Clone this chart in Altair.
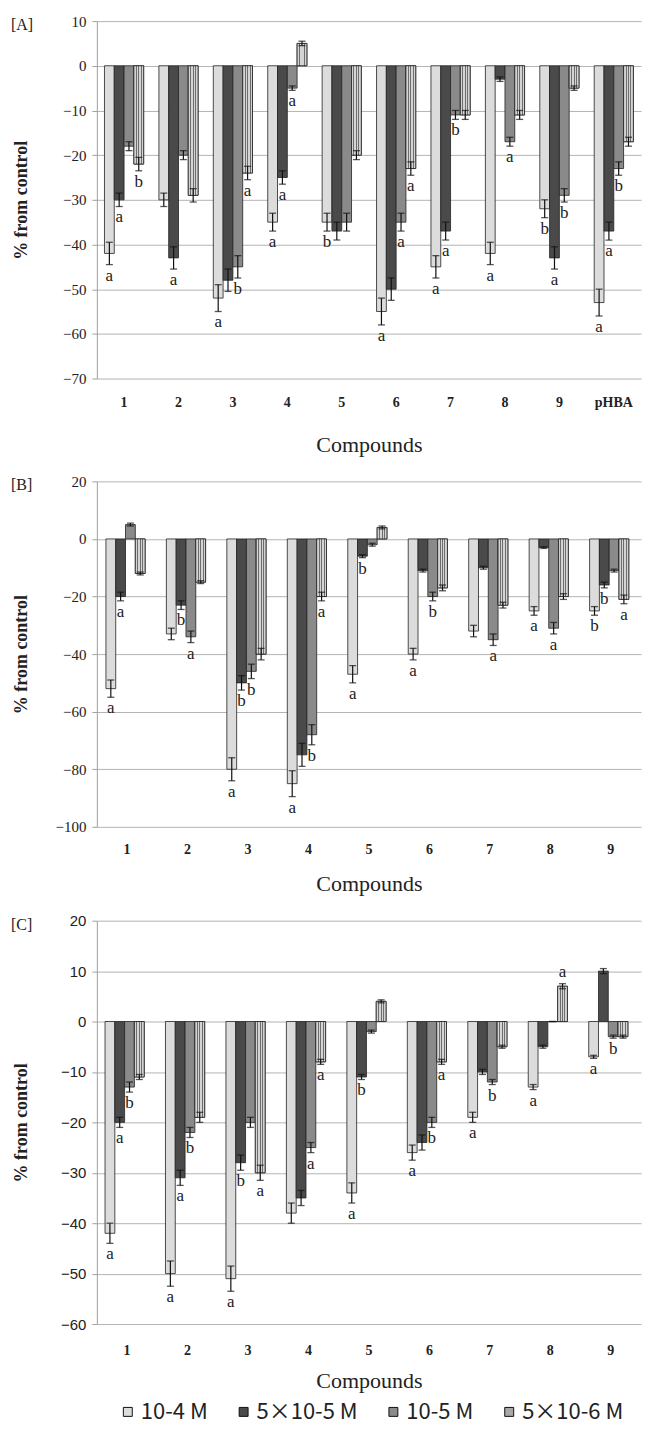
import altair as alt
import pandas as pd

series = ["10-4 M", "5×10-5 M", "10-5 M", "5×10-6 M"]
colors = ["#dcdcdc", "#4a4a4a", "#8a8a8a", "#a8a8a8"]

# ---------------- Panel A ----------------
groups_a = ["1", "2", "3", "4", "5", "6", "7", "8", "9", "pHBA"]
a_s1 = [-42, -30, -52, -35, -35, -55, -45, -42, -32, -53]
a_s2 = [-30, -43, -48, -25, -37, -50, -37, -3, -43, -37]
a_s3 = [-18, -20, -45, -5, -35, -35, -11, -17, -29, -23]
a_s4 = [-22, -29, -24, 5, -20, -23, -11, -11, -5, -17]
a_e1 = [2.5, 1.5, 3, 2, 2, 3, 2.5, 2.5, 2, 3]
a_e2 = [1.5, 2.5, 2.5, 1.5, 2, 2.5, 2, 0.5, 2.5, 2]
a_e3 = [1, 1, 2.5, 0.5, 2, 2, 1, 1, 1.5, 1.5]
a_e4 = [1.5, 1.5, 1.5, 0.5, 1, 1.5, 1, 1, 0.5, 1]
a_l1 = ["a", "", "a", "a", "b", "a", "a", "a", "b", "a"]
a_l2 = ["a", "a", "", "a", "", "", "a", "", "a", "a"]
a_l3 = ["", "", "b", "a", "", "a", "b", "a", "b", "b"]
a_l4 = ["b", "", "a", "", "", "a", "", "", "", ""]

# ---------------- Panel B ----------------
groups_b = ["1", "2", "3", "4", "5", "6", "7", "8", "9"]
b_s1 = [-52, -33, -80, -85, -47, -40, -32, -25, -25]
b_s2 = [-20, -23, -50, -75, -6, -11, -10, -3, -16]
b_s3 = [5, -34, -46, -68, -2, -20, -35, -31, -11]
b_s4 = [-12, -15, -40, -20, 4, -17, -23, -20, -21]
b_e1 = [3, 2, 4, 4.5, 3, 2, 2, 1.5, 1.5]
b_e2 = [1.5, 1.5, 2.5, 4, 0.5, 0.5, 0.5, 0.3, 1]
b_e3 = [0.5, 2, 2.5, 3.5, 0.5, 1.5, 2, 2, 0.5]
b_e4 = [0.5, 0.5, 2, 1.5, 0.5, 1, 1, 1, 1.5]
b_l1 = ["a", "", "a", "a", "a", "a", "", "a", "b"]
b_l2 = ["a", "b", "b", "", "b", "", "", "", "b"]
b_l3 = ["", "a", "b", "b", "", "b", "a", "a", ""]
b_l4 = ["", "", "", "a", "", "", "", "", "a"]

# ---------------- Panel C ----------------
groups_c = ["1", "2", "3", "4", "5", "6", "7", "8", "9"]
c_s1 = [-42, -50, -51, -38, -34, -26, -19, -13, -7]
c_s2 = [-20, -31, -28, -35, -11, -24, -10, -5, 10]
c_s3 = [-13, -22, -20, -25, -2, -20, -12, 0, -3]
c_s4 = [-11, -19, -30, -8, 4, -8, -5, 7, -3]
c_e1 = [2, 2.5, 2.5, 2, 2, 1.5, 1, 0.5, 0.3]
c_e2 = [1, 1.5, 1.5, 1.5, 0.5, 1.5, 0.5, 0.3, 0.5]
c_e3 = [1, 1, 1, 1, 0.3, 1, 0.5, 0, 0.3]
c_e4 = [0.5, 1, 1.5, 0.5, 0.3, 0.5, 0.3, 0.5, 0.3]
c_l1 = ["a", "a", "a", "", "a", "a", "a", "a", "a"]
c_l2 = ["a", "a", "b", "", "b", "", "", "", ""]
c_l3 = ["b", "b", "", "a", "", "b", "b", "", "b"]
c_l4 = ["", "", "a", "a", "", "a", "", "a", ""]


def frame(groups, vals, errs, labs):
    rows = []
    for si, s in enumerate(series):
        for gi, g in enumerate(groups):
            v = vals[si][gi]
            e = errs[si][gi]
            rows.append(dict(compound=g, series=s, value=v, lo=v - e, hi=v + e,
                             label=labs[si][gi]))
    return pd.DataFrame(rows)


SERIF = "Liberation Serif"
TXT = "#222222"

legend = alt.Legend(orient="none", legendX=20, legendY=1382, direction="horizontal",
                    title=None, symbolType="square", symbolSize=80,
                    symbolStrokeColor="#111111", symbolStrokeWidth=1,
                    labelFont="Noto Sans CJK SC", labelFontSize=22, labelColor=TXT,
                    columnPadding=24, labelOffset=2)

stripe_fill = {
    "gradient": "linear", "x1": 0, "y1": 0, "x2": 1, "y2": 0,
    "stops": [
        {"offset": 0.0, "color": "#d4d4d4"}, {"offset": 0.2, "color": "#d4d4d4"},
        {"offset": 0.2, "color": "#6e6e6e"}, {"offset": 0.3, "color": "#6e6e6e"},
        {"offset": 0.3, "color": "#d4d4d4"}, {"offset": 0.45, "color": "#d4d4d4"},
        {"offset": 0.45, "color": "#6e6e6e"}, {"offset": 0.55, "color": "#6e6e6e"},
        {"offset": 0.55, "color": "#d4d4d4"}, {"offset": 0.7, "color": "#d4d4d4"},
        {"offset": 0.7, "color": "#6e6e6e"}, {"offset": 0.8, "color": "#6e6e6e"},
        {"offset": 0.8, "color": "#d4d4d4"}, {"offset": 1.0, "color": "#d4d4d4"},
    ],
}


def panel(df, groups, tag, domain, step, height, tick_font, lab_pad, title_pad,
          pad_inner, ytitle_pad):
    x = alt.X("compound:N", sort=groups,
              scale=alt.Scale(paddingInner=pad_inner, paddingOuter=pad_inner / 2),
              axis=alt.Axis(title="Compounds", labelAngle=0, labelFont=SERIF,
                            labelFontWeight="bold", labelFontSize=14, labelColor=TXT,
                            labelPadding=lab_pad, ticks=False, domain=False,
                            titleFont=SERIF, titleFontSize=22, titleFontWeight="normal",
                            titleColor=TXT, titlePadding=title_pad))
    xo = alt.XOffset("series:N", sort=series)

    def yenc(field):
        return alt.Y(field + ":Q", stack=None,
                     scale=alt.Scale(domain=domain, nice=False, zero=False),
                     axis=alt.Axis(values=list(range(domain[0], domain[1] + 1, step)),
                                   title="% from control", titleFont=SERIF,
                                   titleFontWeight="bold", titleFontSize=18,
                                   titleColor=TXT, titlePadding=ytitle_pad,
                                   labelFont=tick_font, labelFontSize=15, labelColor=TXT,
                                   labelPadding=6, tickSize=5, tickColor="#a0a0a0",
                                   domainColor="#a0a0a0", gridColor="#b4b4b4",
                                   gridWidth=1))

    base = alt.Chart(df)
    bars = base.mark_bar(stroke="#222222", strokeWidth=0.8).encode(
        x=x, xOffset=xo, y=yenc("value"),
        color=alt.Color("series:N", sort=series,
                        scale=alt.Scale(domain=series, range=colors), legend=legend))
    stripes = base.transform_filter(alt.datum.series == series[3]).mark_bar(
        fill=stripe_fill, stroke="#222222", strokeWidth=0.8).encode(
        x=x, xOffset=xo, y=yenc("value"))
    err = base.mark_rule(color="#111111", strokeWidth=1.2).encode(
        x=x, xOffset=xo, y=yenc("lo"), y2="hi:Q")
    cap_lo = base.mark_tick(color="#111111", thickness=1.3, size=7).encode(
        x=x, xOffset=xo, y=yenc("lo"))
    cap_hi = base.mark_tick(color="#111111", thickness=1.3, size=7).encode(
        x=x, xOffset=xo, y=yenc("hi"))
    lab_neg = base.transform_filter("datum.label != '' && datum.value < 0").mark_text(
        baseline="top", dy=3, font=SERIF, fontSize=17, color=TXT).encode(
        x=x, xOffset=xo, y=yenc("lo"), text="label:N")
    lab_pos = base.transform_filter("datum.label != '' && datum.value >= 0").mark_text(
        baseline="bottom", dy=-3, font=SERIF, fontSize=17, color=TXT).encode(
        x=x, xOffset=xo, y=yenc("hi"), text="label:N")
    tagtext = alt.Chart(pd.DataFrame({"t": [tag]})).mark_text(
        align="left", baseline="middle", font=SERIF, fontSize=16, color=TXT).encode(
        x=alt.value(-86), y=alt.value(4), text="t:N")
    return alt.layer(bars, stripes, err, cap_lo, cap_hi, lab_neg, lab_pos, tagtext).properties(
        width=545, height=height)


df_a = frame(groups_a, [a_s1, a_s2, a_s3, a_s4], [a_e1, a_e2, a_e3, a_e4],
             [a_l1, a_l2, a_l3, a_l4])
df_b = frame(groups_b, [b_s1, b_s2, b_s3, b_s4], [b_e1, b_e2, b_e3, b_e4],
             [b_l1, b_l2, b_l3, b_l4])
df_c = frame(groups_c, [c_s1, c_s2, c_s3, c_s4], [c_e1, c_e2, c_e3, c_e4],
             [c_l1, c_l2, c_l3, c_l4])

pa = panel(df_a, groups_a, "[A]", [-70, 10], 10, 358, SERIF, 17, 25, 0.28, 32)
pb = panel(df_b, groups_b, "[B]", [-100, 20], 20, 346, SERIF, 16, 17, 0.3, 25)
pc = panel(df_c, groups_c, "[C]", [-60, 20], 10, 404, "Liberation Sans", 20, 13, 0.27, 30)

chart = alt.vconcat(pa, pb, pc, spacing=17).configure_view(
    stroke="transparent").properties(
    padding={"left": 2, "top": 4, "right": 0, "bottom": 0})

chart.save("out.html", embed_options={"renderer": "svg", "actions": False})
